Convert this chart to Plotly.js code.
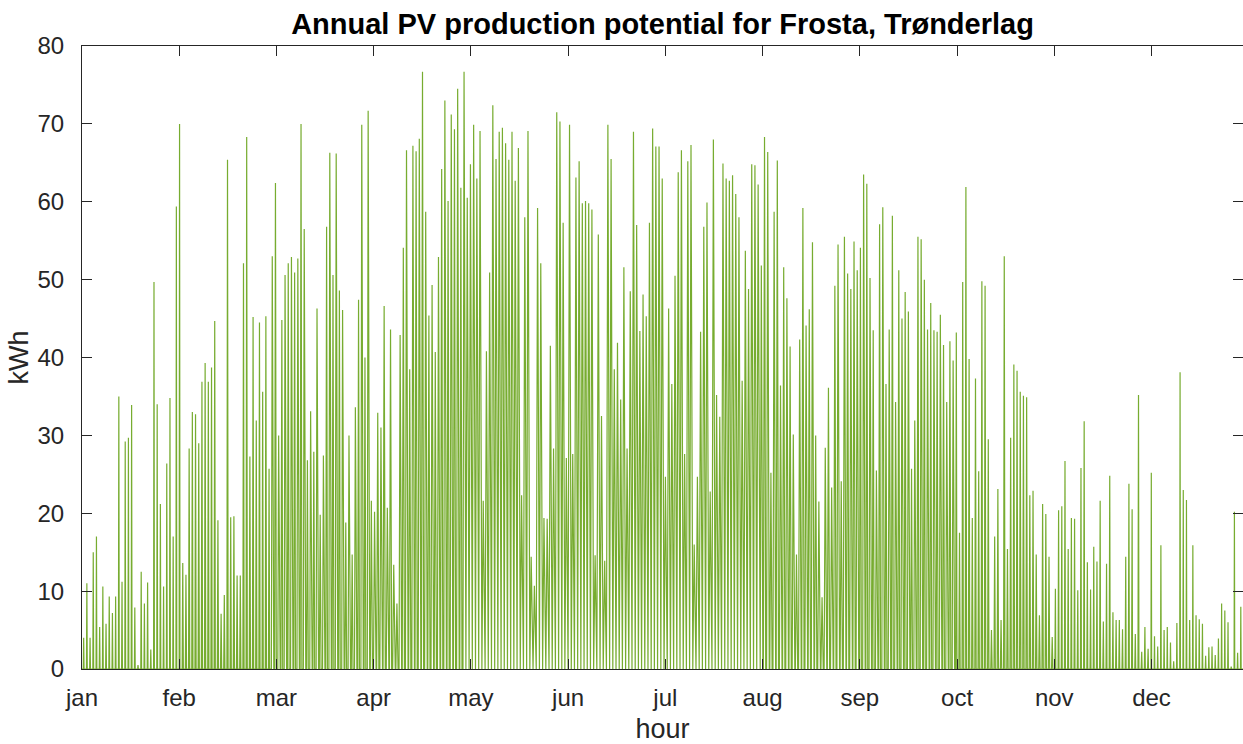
<!DOCTYPE html>
<html>
<head>
<meta charset="utf-8">
<script src="https://cdn.plot.ly/plotly-3.0.1.min.js"></script>
<style>
html,body{margin:0;padding:0;background:#fff;}
#chart{width:1243px;height:744px;}
</style>
</head>
<body>
<div id="chart"></div>
<script>
// Daily peak hourly production (kWh), one value per day
const peakJan = [4,11,4,15,17,5.4,10.6,5.8,9.3,7.2,9.3,35,11.2,29.2,29.7,33.9,7.9,0.5,12.5,8.4,11.1,2.5,49.7,34,21.2,10.6,26.4,34.8,17,59.4,70];
const peakFeb = [13.6,12.1,28.3,33,32.7,29,36.9,39.3,36.9,38.7,44.7,19.1,7.1,9.5,65.4,19.5,19.6,12,12,52.1,68.3,27.3,45.2,31.9,44.5,35.6,45.3,25.7];
const peakMar = [53,62.4,30,44.8,50.6,52.1,52.9,50.9,52.7,70,56.5,26.8,33.1,27.9,46.3,19.8,27.4,56.8,66.3,50.6,66.2,48.6,46.1,18.8,30,14.7,33.6,47.4,69.9,40,71.7];
const peakApr = [21.6,20.2,32.9,31,46.6,20.7,43.6,13.4,8.4,42.9,54.1,66.6,38.5,67.2,66.5,68.1,76.7,58.7,45.4,49.3,40.7,52.9,64.2,73,60.1,71.2,69.3,74.5,61.8,76.7];
const peakMay = [60.5,64.8,69.9,63,69.1,21.6,40.8,50.9,72.4,65.5,69,69.5,67.5,65.4,69,62.7,66.9,22.3,58,69.1,14.4,10.7,59.2,52.1,19.4,19.3,41.5,28.3,71.5,70.3,57.3];
const peakJun = [27.1,69.9,27.6,63.1,65.2,59.8,60.1,59.8,59,14.6,55.8,32.5,13.9,69.9,65.5,38.5,41.9,34.6,51.6,28.3,48.5,69,57,43.4,48.1,45.3,57.3,69.4,67.1,67.1];
const peakJul = [63,24.7,46.3,36.6,50.5,63.8,66.6,27.6,65.2,67.3,16,24.7,43.3,56.8,59.9,22.8,68,35.2,32.4,64.9,63,62.7,63.4,61,58,37,53.7,48.8,64.8,64.7,62.2];
const peakAug = [51.8,68.3,66.4,25.2,58.7,65.3,36.4,51.6,47.6,41.4,30.1,14.7,42.3,59.2,44.1,46.2,54.8,30,21.5,9.2,28.4,36.1,23.3,49.2,54.5,24.1,55.5,50.8,48.8,54.9,51.2];
const peakSep = [54.1,63.5,62.3,50.2,43.5,25.5,57.1,59.3,36.6,43.6,58.2,34.3,51.2,45,48.4,45.9,25.7,31.9,55.5,55.2,50,43.6,47,43.5,43.3,45.5,41.6,34.3,42.1,39.6];
const peakOct = [43.2,17.5,49.7,61.9,39.8,19.4,37.3,25.4,49.8,49.2,29.5,5,17,23.1,6.3,53,15.4,29.7,39.1,38.3,35.6,35.1,34.9,22.3,22.9,14.7,6.9,21.2,19.9,14.4,4.1];
const peakNov = [10.3,20.4,20.9,26.7,15.4,19.4,19.3,10.1,25.8,31.8,13.7,10.2,15.7,13.8,21.6,6.1,13.5,24.8,7.3,6.3,6.3,5.1,14.4,23.8,20.5,4.5,35.2,2.2,5.4,2.6];
const peakDec = [25.2,4.2,2.9,15.9,5,5.4,3.4,1,5.9,38.1,23,21.7,6.3,15.9,6.9,6.4,5.8,1.7,2.8,2.9,1.8,3.9,8.4,7.5,6,0.3,20.2,2.1,8,3,2];

// Approximate production window (hour of day) per month
const startHour = [9.5, 8, 6, 4.5, 2.5, 1.5, 2, 4, 5.5, 7.5, 8.5, 10];
const endHour   = [15.5, 17, 19, 21, 23, 24, 23.5, 21.5, 19.5, 17.5, 15.5, 15];
const peakHour  = [12.5, 12.5, 12.5, 12.5, 12.5, 12.5, 12.5, 12.5, 12.5, 12.5, 12.5, 12.5];

const monthLabels = ['jan','feb','mar','apr','may','jun','jul','aug','sep','oct','nov','dec'];
const monthTickHours = [0,730,1460,2190,2920,3650,4380,5110,5840,6570,7300,8030];
const yTicks = [0,10,20,30,40,50,60,70,80];

const months = [peakJan,peakFeb,peakMar,peakApr,peakMay,peakJun,peakJul,peakAug,peakSep,peakOct,peakNov,peakDec];
const xs = [], ys = [];
let day = 0;
months.forEach((arr, m) => {
  arr.forEach(p => {
    const base = day * 24;
    xs.push(base, base + startHour[m], base + peakHour[m], base + endHour[m]);
    ys.push(0, 0, p, 0);
    day++;
  });
});
xs.push(day * 24); ys.push(0);

const axisColor = '#262626';
const FONT = 'Liberation Sans, Arial, Helvetica, sans-serif';

const trace = {
  x: xs, y: ys, type: 'scatter', mode: 'lines',
  line: {color: 'rgb(119,172,48)', width: 1.2},
  hoverinfo: 'skip'
};

const layout = {
  width: 1243, height: 744,
  margin: {l: 82, r: 0, t: 46, b: 75, pad: 0},
  paper_bgcolor: '#fff', plot_bgcolor: '#fff',
  showlegend: false,
  title: {
    text: '<b>Annual PV production potential for Frosta, Trønderlag</b>',
    font: {family: FONT, size: 29, color: '#000'},
    x: 0.5, xanchor: 'center', xref: 'paper', y: 0.968, yanchor: 'middle'
  },
  xaxis: {
    range: [0, 8717],
    tickmode: 'array', tickvals: monthTickHours, ticktext: monthLabels,
    ticks: 'inside', ticklen: 10, tickwidth: 1, tickcolor: axisColor,
    showline: true, linecolor: axisColor, linewidth: 1, mirror: 'ticks',
    showgrid: false, zeroline: false, ticklabelstandoff: 7,
    tickfont: {family: FONT, size: 24, color: axisColor},
    title: {text: 'hour', font: {family: FONT, size: 27, color: axisColor}, standoff: 10}
  },
  yaxis: {
    range: [0, 80],
    tickmode: 'array', tickvals: yTicks,
    ticks: 'inside', ticklen: 10, tickwidth: 1, tickcolor: axisColor,
    showline: true, linecolor: axisColor, linewidth: 1, mirror: 'ticks',
    showgrid: false, zeroline: false, ticklabelstandoff: 12,
    tickfont: {family: FONT, size: 24, color: axisColor},
    title: {text: 'kWh', font: {family: FONT, size: 27, color: axisColor}, standoff: 1}
  }
};

Plotly.newPlot('chart', [trace], layout, {displayModeBar: false, staticPlot: true});
</script>
</body>
</html>
